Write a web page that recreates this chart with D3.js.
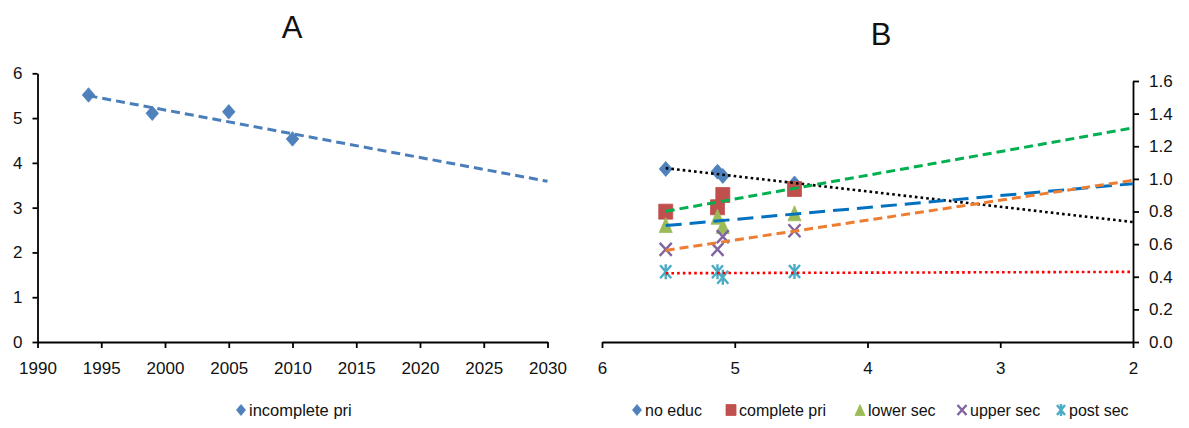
<!DOCTYPE html>
<html>
<head>
<meta charset="utf-8">
<script src="https://cdn.jsdelivr.net/npm/d3@7"></script>
<style>
  html, body { margin: 0; padding: 0; background: #fff; }
  svg { display: block; }
  text { font-family: "Liberation Sans Narrow", "Arial Narrow", "Liberation Sans", sans-serif; fill: #111; }
</style>
</head>
<body>
<svg id="chart" width="1189" height="428"></svg>
<script>
// ---- Panel A: TFR of women with incomplete primary schooling, by survey year
const yearsA = [1994, 1999, 2005, 2010];
const incompletePri = [5.516, 5.107, 5.14, 4.535];
const xTicksA = [1990, 1995, 2000, 2005, 2010, 2015, 2020, 2025, 2030];
const yTicksA = [0, 1, 2, 3, 4, 5, 6];

// ---- Panel B: relative TFR by education vs. incomplete-primary TFR
const tfrB = [5.52, 5.13, 5.09, 4.55];
const noEduc = [1.061, 1.044, 1.018, 0.972];
const completePri = [0.799, 0.826, 0.901, 0.938];
const lowerSec = [0.717, 0.768, 0.711, 0.789];
const upperSec = [0.568, 0.568, 0.646, 0.682];
const postSec = [0.431, 0.431, 0.397, 0.432];
const xTicksB = [6, 5, 4, 3, 2];
const yTicksB = [0, 0.2, 0.4, 0.6, 0.8, 1.0, 1.2, 1.4, 1.6];

const seriesB = [
  { name: "no educ", values: noEduc, marker: "diamond", color: "#4F81BD",
    trend: { color: "#000000", dash: "2.6 3.1", width: 2.6 } },
  { name: "complete pri", values: completePri, marker: "square", color: "#C0504D",
    trend: { color: "#00B050", dash: "9 5", width: 3 } },
  { name: "lower sec", values: lowerSec, marker: "triangle", color: "#9BBB59",
    trend: { color: "#0070C0", dash: "16 8", width: 3 } },
  { name: "upper sec", values: upperSec, marker: "x", color: "#8064A2",
    trend: { color: "#ED7D31", dash: "9 5", width: 3 } },
  { name: "post sec", values: postSec, marker: "star", color: "#4BACC6",
    trend: { color: "#FF0000", dash: "2.6 3.1", width: 2.6 } }
];

const svg = d3.select("#chart");

// Least-squares line through (x, y) pairs
function linearFit(xs, ys) {
  const n = xs.length;
  const mx = d3.mean(xs), my = d3.mean(ys);
  let sxy = 0, sxx = 0;
  for (let i = 0; i < n; i++) {
    sxy += (xs[i] - mx) * (ys[i] - my);
    sxx += (xs[i] - mx) * (xs[i] - mx);
  }
  const slope = sxy / sxx;
  return x => my + slope * (x - mx);
}

// Marker outlines centred on (0,0); w/h are the full width and height
function markerPath(kind, w, h) {
  const a = w / 2, b = h / 2;
  switch (kind) {
    case "diamond": return `M0,${-b}L${a},0L0,${b}L${-a},0Z`;
    case "square": return `M${-a},${-b}H${a}V${b}H${-a}Z`;
    case "triangle": return `M0,${-b}L${a},${b}L${-a},${b}Z`;
    case "x": return `M${-a},${-b}L${a},${b}M${a},${-b}L${-a},${b}`;
    case "star": return `M${-a},${-b}L${a},${b}M${a},${-b}L${-a},${b}M0,${-b - 1}V${b + 1}`;
  }
}
function drawMarker(g, kind, color, x, y, w, h) {
  const stroked = kind === "x" || kind === "star";
  g.append("path")
    .attr("transform", `translate(${x},${y})`)
    .attr("d", markerPath(kind, w, h))
    .attr("fill", stroked ? "none" : color)
    .attr("stroke", color)
    .attr("stroke-width", stroked ? 2.4 : 0.8)
    .attr("stroke-linejoin", "miter");
}

function styleAxis(g) {
  g.select(".domain").attr("stroke", "#000").attr("stroke-width", 1.8);
  g.selectAll(".tick line").attr("stroke", "#000").attr("stroke-width", 1.8);
  g.selectAll(".tick text").attr("font-size", 17).attr("fill", "#1a1a1a");
}

// ================= Panel A =================
const xA = d3.scaleLinear().domain([1990, 2030]).range([37.5, 547.5]);
const yA = d3.scaleLinear().domain([0, 6]).range([342, 73.3]);

const gA = svg.append("g");
gA.append("text").attr("x", 292).attr("y", 38).attr("text-anchor", "middle")
  .attr("font-size", 31).text("A");

gA.append("g").attr("transform", "translate(0,342)")
  .call(d3.axisBottom(xA).tickValues(xTicksA).tickFormat(d3.format("d"))
    .tickSize(6).tickSizeOuter(0).tickPadding(14))
  .call(styleAxis);
gA.append("g").attr("transform", `translate(${xA(1990)},0)`)
  .call(d3.axisLeft(yA).tickValues(yTicksA).tickFormat(d3.format("d"))
    .tickSize(5).tickSizeOuter(0).tickPadding(10))
  .call(styleAxis);

const fitA = linearFit(yearsA, incompletePri);
const gMarkA = gA.append("g");
yearsA.forEach((yr, i) => drawMarker(gMarkA, "diamond", "#4F81BD", xA(yr), yA(incompletePri[i]), 12.5, 14.5));
gA.append("line")
  .attr("x1", xA(yearsA[0])).attr("y1", yA(fitA(yearsA[0])))
  .attr("x2", xA(2030)).attr("y2", yA(fitA(2030)))
  .attr("stroke", "#4A7EBB").attr("stroke-width", 3).attr("stroke-dasharray", "9 5");

// Legend A
const legA = gA.append("g");
drawMarker(legA, "diamond", "#4F81BD", 241, 410, 9, 11);
legA.append("text").attr("x", 249).attr("y", 416).attr("font-size", 16.5).text("incomplete pri");

// ================= Panel B =================
const xB = d3.scaleLinear().domain([6, 2]).range([602, 1133]);
const yB = d3.scaleLinear().domain([0, 1.6]).range([342, 81]);

const gB = svg.append("g");
gB.append("text").attr("x", 881).attr("y", 45).attr("text-anchor", "middle")
  .attr("font-size", 31).text("B");

gB.append("g").attr("transform", "translate(0,342)")
  .call(d3.axisBottom(xB).tickValues(xTicksB).tickFormat(d3.format("d"))
    .tickSize(6).tickSizeOuter(0).tickPadding(14))
  .call(styleAxis);
gB.append("g").attr("transform", `translate(${xB(2)},0)`)
  .call(d3.axisRight(yB).tickValues(yTicksB).tickFormat(d3.format(".1f"))
    .tickSize(6).tickSizeOuter(0).tickPadding(10))
  .call(styleAxis);

const markerSize = {
  diamond: [13, 15], square: [14, 15], triangle: [13, 15], x: [12, 13], star: [11, 13]
};

// markers first, trend lines drawn on top
const gMarkB = gB.append("g");
seriesB.forEach(s => {
  s.values.forEach((v, i) => {
    const [w, h] = markerSize[s.marker];
    drawMarker(gMarkB, s.marker, s.color, xB(tfrB[i]), yB(v), w, h);
  });
});
const gTrendB = gB.append("g");
const xStart = d3.max(tfrB), xEnd = 2;
seriesB.forEach(s => {
  const f = linearFit(tfrB, s.values);
  gTrendB.append("line")
    .attr("x1", xB(xStart)).attr("y1", yB(f(xStart)))
    .attr("x2", xB(xEnd)).attr("y2", yB(f(xEnd)))
    .attr("stroke", s.trend.color).attr("stroke-width", s.trend.width)
    .attr("stroke-dasharray", s.trend.dash);
});

// Legend B
const legendX = [637, 731, 860, 962, 1061];
const legB = gB.append("g");
seriesB.forEach((s, i) => {
  const small = { diamond: [9, 11], square: [10, 11], triangle: [10, 11], x: [9, 10], star: [8, 10] }[s.marker];
  drawMarker(legB, s.marker, s.color, legendX[i], 410, small[0], small[1]);
  legB.append("text").attr("x", legendX[i] + 8).attr("y", 416).attr("font-size", 16).text(s.name);
});
</script>
</body>
</html>
